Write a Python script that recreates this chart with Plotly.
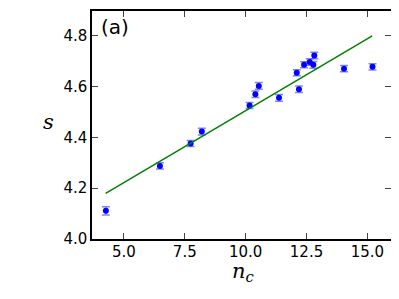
import plotly.graph_objects as go

n_c = [4.26, 6.48, 7.74, 8.20, 10.16, 10.40, 10.54, 11.37, 12.10, 12.19, 12.40, 12.63, 12.78, 12.82, 14.04, 15.21]
s_vals = [4.111, 4.288, 4.376, 4.423, 4.526, 4.570, 4.603, 4.556, 4.655, 4.590, 4.686, 4.697, 4.686, 4.723, 4.671, 4.678]
s_err = [0.016, 0.012, 0.012, 0.013, 0.012, 0.013, 0.013, 0.013, 0.012, 0.013, 0.012, 0.013, 0.013, 0.013, 0.012, 0.012]
fit_x = [4.25, 15.2]
fit_y = [4.18, 4.80]
x_ticks = [5.0, 7.5, 10.0, 12.5, 15.0]
y_ticks = [4.0, 4.2, 4.4, 4.6, 4.8]

fig = go.Figure()
fig.add_trace(go.Scatter(
    x=n_c, y=s_vals, mode="markers",
    marker=dict(color="#0000ff", size=6),
    error_y=dict(type="data", array=s_err, color="rgba(80,80,255,0.7)", thickness=1.5, width=4),
    showlegend=False))
fig.add_trace(go.Scatter(
    x=fit_x, y=fit_y, mode="lines",
    line=dict(color="#008000", width=1.5), showlegend=False))

axis_common = dict(showgrid=False, zeroline=False, showline=True, linecolor="black", linewidth=1.5,
                   mirror="ticks", ticks="inside", ticklen=6, tickwidth=1, tickcolor="#444444",
                   tickfont=dict(family="DejaVu Sans", size=15, color="black"))
fig.update_xaxes(range=[3.69, 15.97], tickvals=x_ticks, ticktext=["%.1f" % v for v in x_ticks],
                 ticklabelstandoff=-2, **axis_common)
fig.update_yaxes(range=[4.0, 4.898], tickvals=y_ticks, ticktext=["%.1f" % v for v in y_ticks], **axis_common)

# axis labels (unrotated, as in the reference)
fig.add_annotation(text="<i>s</i>", xref="paper", yref="paper", x=-0.147, y=0.515,
                   xanchor="center", yanchor="middle", showarrow=False,
                   font=dict(family="DejaVu Serif", size=21, color="black"))
fig.add_annotation(text="<i>n</i><sub><i>c</i></sub>", xref="paper", yref="paper", x=0.505, y=-0.145,
                   xanchor="center", yanchor="middle", showarrow=False,
                   font=dict(family="DejaVu Serif", size=21, color="black"))
fig.add_annotation(text="(a)", xref="paper", yref="paper", x=0.022, y=0.93, xanchor="left", yanchor="middle",
                   showarrow=False, font=dict(family="DejaVu Sans", size=20, color="black"))
# the page places the figure 8px in from the top-left corner, so the figure is 8px smaller
fig.update_layout(width=391, height=291, margin=dict(l=84, r=8, t=1, b=60),
                  plot_bgcolor="white", paper_bgcolor="white")
fig.write_html("out.html")
